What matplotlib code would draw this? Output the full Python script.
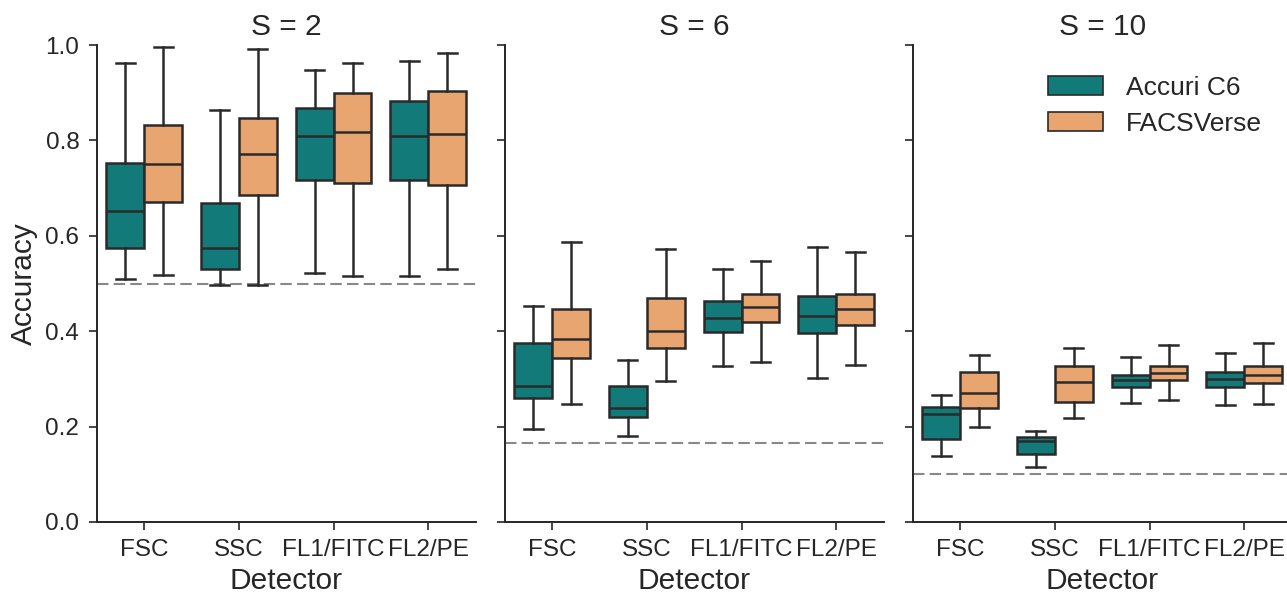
#! /usr/bin/env python3
# coding: utf-8

"""
    Boxplots de précision par détecteur, pour deux cytomètres et trois valeurs de S
"""

import matplotlib
matplotlib.use("Agg")
import matplotlib.pyplot as plt
from matplotlib.patches import Patch


plt.rcParams['font.family'] = ['Liberation Sans', 'DejaVu Sans']

########################################################################################################################
#             Données                                                                             #
########################################################################################################################
detecteurs = ["FSC", "SSC", "FL1/FITC", "FL2/PE"]
instruments = ["Accuri C6", "FACSVerse"]
couleurs = ["#127b79", "#e9a56f"]
titres = ["S = 2", "S = 6", "S = 10"]
hasard = [1 / 2, 1 / 6, 1 / 10]

# [panneau][instrument][détecteur]
whislo = [
    [[0.509, 0.497, 0.523, 0.516], [0.517, 0.497, 0.516, 0.531]],
    [[0.196, 0.181, 0.326, 0.302], [0.247, 0.296, 0.335, 0.329]],
    [[0.138, 0.115, 0.249, 0.246], [0.200, 0.219, 0.256, 0.248]],
]
q1 = [
    [[0.575, 0.531, 0.716, 0.718], [0.671, 0.685, 0.711, 0.707]],
    [[0.261, 0.221, 0.398, 0.397], [0.344, 0.365, 0.420, 0.414]],
    [[0.175, 0.143, 0.282, 0.284], [0.238, 0.252, 0.298, 0.291]],
]
med = [
    [[0.651, 0.574, 0.809, 0.809], [0.751, 0.772, 0.817, 0.814]],
    [[0.286, 0.238, 0.427, 0.432], [0.383, 0.400, 0.451, 0.447]],
    [[0.226, 0.169, 0.297, 0.299], [0.270, 0.294, 0.313, 0.308]],
]
q3 = [
    [[0.752, 0.668, 0.867, 0.883], [0.832, 0.848, 0.899, 0.904]],
    [[0.375, 0.286, 0.463, 0.474], [0.446, 0.469, 0.479, 0.477]],
    [[0.242, 0.179, 0.309, 0.314], [0.314, 0.328, 0.328, 0.327]],
]
whishi = [
    [[0.962, 0.863, 0.948, 0.967], [0.996, 0.992, 0.962, 0.983]],
    [[0.453, 0.340, 0.531, 0.577], [0.586, 0.572, 0.548, 0.565]],
    [[0.266, 0.191, 0.346, 0.354], [0.350, 0.364, 0.372, 0.376]],
]

########################################################################################################################
#             Figure                                                                                                   #
########################################################################################################################
fig = plt.figure(figsize=(12.87, 5.93), dpi=100)

texte = "#262626"
trait = "#2a2a2a"
lw = 1.8

for p in range(3):
    ax = fig.add_axes([(96.7 + 408 * p) / 1287, 71 / 593, 379 / 1287, 477 / 593])

    for i in range(2):
        stats = []
        for d in range(len(detecteurs)):
            stats.append({"whislo": whislo[p][i][d], "q1": q1[p][i][d], "med": med[p][i][d],
                          "q3": q3[p][i][d], "whishi": whishi[p][i][d], "fliers": []})
        pos = [d - 0.2 + 0.4 * i for d in range(len(detecteurs))]
        ax.bxp(stats, positions=pos, widths=0.4, patch_artist=True, showfliers=False, manage_ticks=False,
               boxprops=dict(facecolor=couleurs[i], edgecolor=trait, linewidth=lw),
               medianprops=dict(color=trait, linewidth=lw),
               whiskerprops=dict(color=trait, linewidth=lw),
               capprops=dict(color=trait, linewidth=lw))

    ax.axhline(hasard[p], color="#888888", linestyle=(0, (5.5, 2.5)), linewidth=1.5, zorder=0.5)

    ax.set_xlim(-0.5, 3.5)
    ax.set_ylim(0, 1.0)
    ax.set_xticks(range(len(detecteurs)))
    ax.set_xticklabels(detecteurs)
    ax.set_yticks([0, 0.2, 0.4, 0.6, 0.8, 1.0])
    ax.tick_params(labelsize=17.5, colors=texte, length=6, width=1.2, pad=6.5)
    for cote in ["top", "right"]:
        ax.spines[cote].set_visible(False)
    for cote in ["left", "bottom"]:
        ax.spines[cote].set_color(texte)
        ax.spines[cote].set_linewidth(1.4)

    ax.set_title(titres[p], fontsize=21.5, color=texte, pad=7)
    ax.set_xlabel("Detector", fontsize=21.5, color=texte, labelpad=4)
    if p == 0:
        ax.set_ylabel("Accuracy", fontsize=21.5, color=texte, labelpad=5)
        ax.yaxis.set_major_formatter(matplotlib.ticker.FormatStrFormatter('%.1f'))
    else:
        ax.set_yticklabels([])

    if p == 2:
        poignees = [Patch(facecolor=c, edgecolor=trait, linewidth=1.2) for c in couleurs]
        ax.legend(poignees, instruments, loc="upper right", frameon=False, fontsize=19,
                  bbox_to_anchor=(0.985, 0.985), handlelength=2.05, handleheight=0.75,
                  labelspacing=0.45, handletextpad=0.9, labelcolor=texte)

fig.savefig("out.png", dpi=100)
